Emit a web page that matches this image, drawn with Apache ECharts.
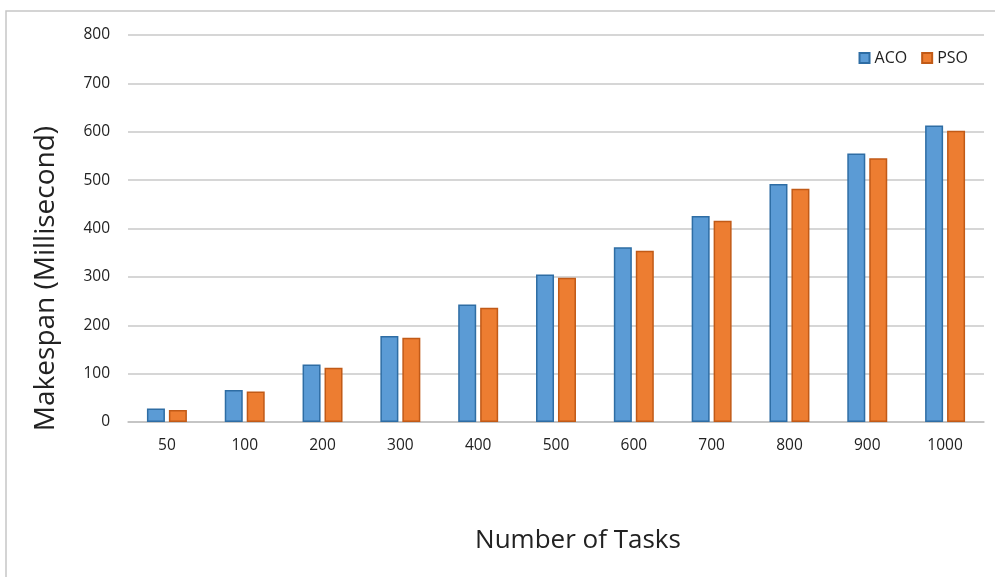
<!DOCTYPE html>
<html>
<head>
<meta charset="utf-8">
<script src="https://cdn.jsdelivr.net/npm/echarts@6/dist/echarts.min.js"></script>
<style>
  html, body { margin: 0; padding: 0; background: #fff; }
  #chart { width: 995px; height: 577px; }
</style>
</head>
<body>
<div id="chart"></div>
<script>
// number of tasks on the x axis
var tasks = ["50", "100", "200", "300", "400", "500", "600", "700", "800", "900", "1000"]
// makespan in ms
var acoValues = [28, 66, 119, 178, 243, 305, 361, 426, 492, 555, 613]
var psoValues = [25, 63, 112, 174, 236, 298, 354, 416, 482, 545, 602]

var chart = echarts.init(document.getElementById("chart"))
var font = "'Open Sans', 'Noto Sans', sans-serif"

var option = {
    animation: false,
    graphic: [
        {
            type: "rect",
            shape: { x: 6, y: 11, width: 1100, height: 700 },
            style: { fill: "none", stroke: "#c6c6c6", lineWidth: 1.5 },
            silent: true
        }
    ],
    grid: {
        left: 128,
        right: 11,
        top: 35,
        bottom: 155
    },
    legend: {
        right: 22,
        top: 45,
        itemWidth: 10,
        itemHeight: 10,
        itemGap: 14,
        icon: "rect",
        textStyle: { fontFamily: font, fontSize: 16, color: "#222" },
        data: ["ACO", "PSO"]
    },
    xAxis: {
        type: "category",
        data: tasks,
        name: "Number of Tasks",
        nameLocation: "middle",
        nameGap: 106,
        // the title sits a bit right of the plot centre
        nameTextStyle: { fontFamily: font, fontSize: 26, color: "#222", padding: [0, 0, 0, 44] },
        axisLine: { lineStyle: { color: "#c0c0c0", width: 1.5 } },
        axisTick: { show: false },
        axisLabel: { fontFamily: font, fontSize: 15.5, color: "#222", margin: 16 }
    },
    yAxis: {
        type: "value",
        min: 0,
        max: 800,
        interval: 100,
        name: "Makespan (Millisecond)",
        nameLocation: "middle",
        nameGap: 68,
        // pushed down below the plot centre, as in the picture
        nameTextStyle: { fontFamily: font, fontSize: 28, color: "#222", padding: [0, 100, 0, 0] },
        axisLine: { show: false },
        axisTick: { show: false },
        axisLabel: { fontFamily: font, fontSize: 15.5, color: "#222", margin: 18 },
        splitLine: { lineStyle: { color: "#c8c8c8", width: 1.5 } }
    },
    series: [
        {
            name: "ACO",
            type: "bar",
            data: acoValues,
            barWidth: 18,
            barGap: "22%",
            itemStyle: { color: "#5b9bd5", borderColor: "#2e6da4", borderWidth: 1.5 }
        },
        {
            name: "PSO",
            type: "bar",
            data: psoValues,
            barWidth: 18,
            itemStyle: { color: "#ed7d31", borderColor: "#c15a17", borderWidth: 1.5 }
        }
    ]
}

chart.setOption(option)
</script>
</body>
</html>
